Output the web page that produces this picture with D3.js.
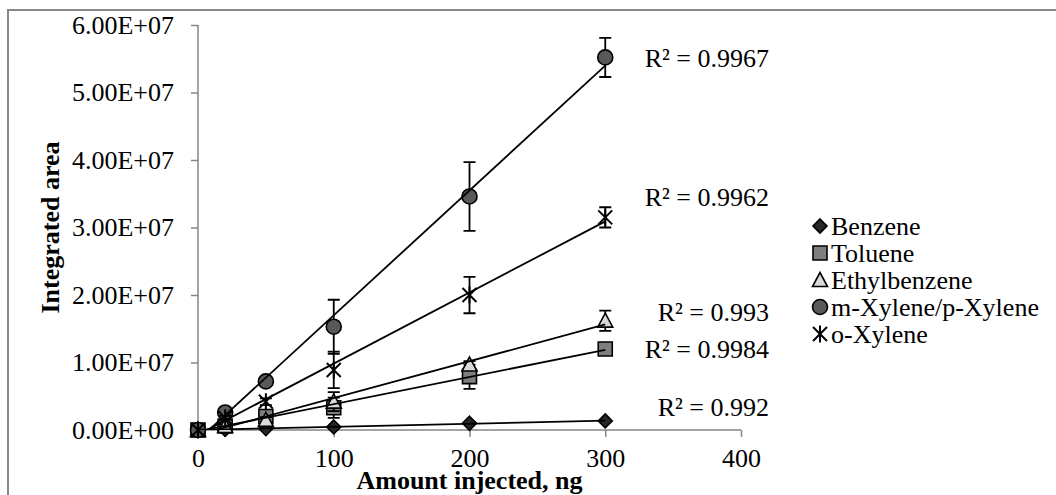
<!DOCTYPE html>
<html>
<head>
<meta charset="utf-8">
<script src="https://cdn.jsdelivr.net/npm/d3@7"></script>
<style>
  body { margin: 0; background: #fff; }
  svg { display: block; }
  text { font-family: "Liberation Serif", "Times New Roman", serif; fill: #000; }
</style>
</head>
<body>
<svg id="chart" width="1056" height="495"></svg>
<script>
// Calibration data: amount injected (ng) vs. integrated peak area
const amounts = [0, 20, 50, 100, 200, 300];
const seriesNames = ["Benzene", "Toluene", "Ethylbenzene", "m-Xylene/p-Xylene", "o-Xylene"];
const benzene      = [0, 9e4, 2.2e5, 4.5e5, 1.0e6, 1.35e6];
const toluene      = [0, 6e5, 2.0e6, 3.3e6, 7.9e6, 1.2e7];
const ethylbenzene = [0, 6e5, 1.5e6, 4.2e6, 9.7e6, 1.62e7];
const mpXylene     = [0, 2.6e6, 7.2e6, 1.53e7, 3.46e7, 5.52e7];
const oXylene      = [0, 1.8e6, 4.2e6, 8.9e6, 2.0e7, 3.15e7];
// standard deviations (error bars)
const benzeneErr      = [0, 0, 0, 0, 0, 0];
const tolueneErr      = [0, 2e5, 3e5, 1.5e6, 1.8e6, 4e5];
const ethylbenzeneErr = [0, 2e5, 4e5, 1.4e6, 5e5, 1.5e6];
const mpXyleneErr     = [0, 3e5, 5e5, 4.0e6, 5.1e6, 2.9e6];
const oXyleneErr      = [0, 3e5, 5e5, 2.7e6, 2.7e6, 1.5e6];
// coefficient of determination of each linear fit
const rSquared = ["0.992", "0.9984", "0.993", "0.9967", "0.9962"];
// axis ticks
const xTicks = [0, 100, 200, 300, 400];
const yTicks = [0, 1e7, 2e7, 3e7, 4e7, 5e7, 6e7];
const yTickLabels = ["0.00E+00", "1.00E+07", "2.00E+07", "3.00E+07", "4.00E+07", "5.00E+07", "6.00E+07"];

const seriesValues = [benzene, toluene, ethylbenzene, mpXylene, oXylene];
const seriesErrors = [benzeneErr, tolueneErr, ethylbenzeneErr, mpXyleneErr, oXyleneErr];

// ---- styling / layout ----
const markerStyle = [
  { shape: "diamond",  fill: "#262626" },
  { shape: "square",   fill: "#7f7f7f" },
  { shape: "triangle", fill: "#d9d9d9" },
  { shape: "circle",   fill: "#595959" },
  { shape: "star",     fill: "none" }
];
const r2LabelOffset = [-14, -1, -13, -8, -24];   // px shift of each R² label from the fitted end point
const fontSize = 26;
const axisGrey = "#868686";

const svg = d3.select("#chart");

// chart-area border
svg.append("rect")
  .attr("x", 8).attr("y", 10).attr("width", 1100).attr("height", 600)
  .attr("fill", "#fff").attr("stroke", "#878787").attr("stroke-width", 2);

const x = d3.scaleLinear().domain([0, 400]).range([198, 741]);
const y = d3.scaleLinear().domain([0, 6e7]).range([430, 25]);

// clip for the trendlines
svg.append("clipPath").attr("id", "plotClip")
  .append("rect")
  .attr("x", x(0)).attr("y", y(6e7))
  .attr("width", x(400) - x(0)).attr("height", y(0) - y(6e7));

// ---- axes ----
const yAxis = svg.append("g").attr("transform", `translate(${x(0)},0)`)
  .call(d3.axisLeft(y).tickValues(yTicks).tickSize(7).tickPadding(17)
    .tickFormat((d, i) => yTickLabels[i]));
const xAxis = svg.append("g").attr("transform", `translate(0,${y(0)})`)
  .call(d3.axisBottom(x).tickValues(xTicks).tickSize(7).tickPadding(12)
    .tickFormat(d3.format("d")));
[xAxis, yAxis].forEach(g => {
  g.select(".domain").attr("stroke", axisGrey).attr("stroke-width", 1.5);
  g.selectAll(".tick line").attr("stroke", axisGrey).attr("stroke-width", 1.5);
  g.selectAll(".tick text")
    .attr("font-family", '"Liberation Serif", "Times New Roman", serif')
    .attr("font-size", fontSize).attr("fill", "#000");
});
// axis lines without outer end caps
yAxis.select(".domain").attr("d", `M0,${y(6e7)}H0V${y(0)}`);
xAxis.select(".domain").attr("d", `M${x(0)},0H${x(400)}`);

// axis titles
svg.append("text")
  .attr("x", (x(0) + x(400)) / 2).attr("y", 489)
  .attr("text-anchor", "middle").attr("font-weight", "bold").attr("font-size", fontSize)
  .text("Amount injected, ng");
svg.append("text")
  .attr("transform", `translate(59,${(y(0) + y(6e7)) / 2}) rotate(-90)`)
  .attr("text-anchor", "middle").attr("font-weight", "bold").attr("font-size", fontSize)
  .text("Integrated area");

// ---- marker shapes ----
function markerPath(shape) {
  switch (shape) {
    case "diamond":  return "M0,-7L7,0L0,7L-7,0Z";
    case "square":   return "M-7,-7H7V7H-7Z";
    case "triangle": return "M0,-7.5L7.5,6.5H-7.5Z";
    case "circle":   return d3.arc()({ innerRadius: 0, outerRadius: 7.5, startAngle: 0, endAngle: 2 * Math.PI });
    case "star":     return "M-7,-7L7,7M-7,7L7,-7M0,-8.5V8.5";
  }
}
function drawMarker(g, style) {
  g.append("path")
    .attr("d", markerPath(style.shape))
    .attr("fill", style.fill)
    .attr("stroke", "#000")
    .attr("stroke-width", style.shape === "star" ? 2 : 1.6)
    .attr("stroke-linejoin", "miter");
}

// ---- series: error bars, then markers ----
const plot = svg.append("g");
seriesValues.forEach((vals, s) => {
  const errs = seriesErrors[s];
  const sg = plot.append("g");
  amounts.forEach((a, i) => {
    if (errs[i] <= 0) return;
    const cx = x(a), top = y(vals[i] + errs[i]), bot = y(vals[i] - errs[i]);
    sg.append("path")
      .attr("d", `M${cx},${top}V${bot}M${cx - 6},${top}H${cx + 6}M${cx - 6},${bot}H${cx + 6}`)
      .attr("stroke", "#000").attr("stroke-width", 1.8).attr("fill", "none");
  });
  amounts.forEach((a, i) => {
    drawMarker(sg.append("g").attr("transform", `translate(${x(a)},${y(vals[i])})`), markerStyle[s]);
  });
});

// ---- least-squares linear trendlines with R² labels ----
function linearFit(xs, ys) {
  const n = xs.length;
  const mx = d3.mean(xs), my = d3.mean(ys);
  let sxy = 0, sxx = 0;
  for (let i = 0; i < n; i++) { sxy += (xs[i] - mx) * (ys[i] - my); sxx += (xs[i] - mx) ** 2; }
  const slope = sxy / sxx;
  return { slope, intercept: my - slope * mx };
}
const trendG = svg.append("g").attr("clip-path", "url(#plotClip)");
const xMin = d3.min(amounts), xMax = d3.max(amounts);
seriesValues.forEach((vals, s) => {
  const fit = linearFit(amounts, vals);
  const f = v => fit.intercept + fit.slope * v;
  trendG.append("line")
    .attr("x1", x(xMin)).attr("y1", y(f(xMin)))
    .attr("x2", x(xMax)).attr("y2", y(f(xMax)))
    .attr("stroke", "#000").attr("stroke-width", 1.8);
  svg.append("text")
    .attr("x", 769).attr("y", y(f(xMax)) + r2LabelOffset[s])
    .attr("dy", "0.35em").attr("text-anchor", "end").attr("font-size", fontSize)
    .text(`R² = ${rSquared[s]}`);
});

// ---- legend ----
const legend = svg.append("g").attr("transform", "translate(820,226)");
seriesNames.forEach((name, s) => {
  const row = legend.append("g").attr("transform", `translate(0,${s * 27})`);
  drawMarker(row.append("g"), markerStyle[s]);
  row.append("text").attr("x", 11).attr("dy", "0.35em").attr("font-size", fontSize).text(name);
});
</script>
</body>
</html>
